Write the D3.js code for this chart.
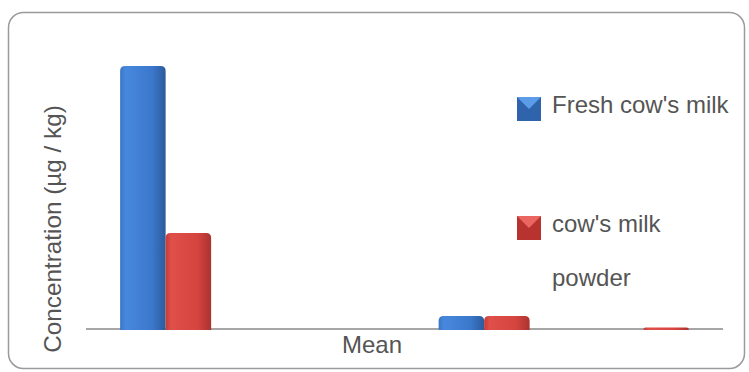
<!DOCTYPE html>
<html>
<head>
<meta charset="utf-8">
<script src="https://cdn.jsdelivr.net/npm/d3@7"></script>
<style>
  body { margin: 0; background: #fff; }
  text { font-family: "Liberation Sans", Arial, sans-serif; fill: #555; }
</style>
</head>
<body>
<div id="chart"></div>
<script>
// groups along the x axis (only the axis title "Mean" is shown)
var groups = ["g1", "g2", "g3", "g4"];
var seriesNames = ["Fresh cow's milk", "cow's milk powder"];
var freshValues = [2.74, 0, 0.135, 0];
var powderValues = [1.0, 0, 0.135, 0.015];
var axisTitle = "Mean";
var yTitle = "Concentration (µg / kg)";

var width = 749, height = 372;

var svg = d3.select("#chart").append("svg")
    .attr("width", width)
    .attr("height", height);

var defs = svg.append("defs");

function gradient(id, stops) {
  var g = defs.append("linearGradient").attr("id", id)
      .attr("x1", "0%").attr("x2", "100%").attr("y1", "0%").attr("y2", "0%");
  stops.forEach(function(s) {
    g.append("stop").attr("offset", s[0]).attr("stop-color", s[1]);
  });
}
gradient("blueBar", [["0%", "#3a75c4"], ["12%", "#4788de"], ["70%", "#3b78cc"], ["100%", "#2c5b9c"]]);
gradient("redBar", [["0%", "#c43b36"], ["12%", "#e0504a"], ["70%", "#d5443f"], ["100%", "#a93330"]]);

var fills = ["url(#blueBar)", "url(#redBar)"];
var legendFills = [["#5b9be8", "#2f64ad"], ["#ea6661", "#b8332f"]];

// outer rounded frame
svg.append("rect")
    .attr("x", 8.5).attr("y", 12.5)
    .attr("width", 736).attr("height", 356)
    .attr("rx", 15)
    .attr("fill", "#fff")
    .attr("stroke", "#9a9a9a")
    .attr("stroke-width", 1.5);

var x0 = d3.scaleBand()
    .domain(groups)
    .range([86, 723])
    .padding(0);

var x1 = d3.scaleBand()
    .domain(seriesNames)
    .range([0, x0.bandwidth()])
    .paddingInner(0)
    .paddingOuter(0.75);

var y = d3.scaleLinear()
    .domain([0, 3])
    .range([329, 41]);

var rows = groups.map(function(g, i) {
  return { group: g, values: [freshValues[i], powderValues[i]] };
});

// category axis line (drawn first so the bars sit on top)
svg.append("line")
    .attr("x1", x0.range()[0]).attr("x2", x0.range()[1])
    .attr("y1", y(0)).attr("y2", y(0))
    .attr("stroke", "#a6a6a6")
    .attr("stroke-width", 2);

// bar with rounded top corners
function barPath(x, w, top, bottom) {
  var h = bottom - top;
  var r = Math.min(5, h, w / 2);
  return "M" + x + "," + bottom
    + "L" + x + "," + (top + r)
    + "Q" + x + "," + top + " " + (x + r) + "," + top
    + "L" + (x + w - r) + "," + top
    + "Q" + (x + w) + "," + top + " " + (x + w) + "," + (top + r)
    + "L" + (x + w) + "," + bottom + "Z";
}

var group = svg.selectAll(".grp")
    .data(rows)
    .enter().append("g")
    .attr("class", "grp")
    .attr("transform", function(d) { return "translate(" + x0(d.group) + ",0)"; });

group.selectAll("path")
    .data(function(d) {
      return d.values.map(function(v, i) { return { name: seriesNames[i], value: v, i: i }; })
        .filter(function(b) { return b.value > 0; });
    })
    .enter().append("path")
    .attr("d", function(b) {
      return barPath(x1(b.name), x1.bandwidth(), y(b.value), y(0) + 1);
    })
    .attr("fill", function(b) { return fills[b.i]; });

svg.append("text")
    .attr("x", 372).attr("y", 353)
    .attr("text-anchor", "middle")
    .style("font-size", "24px")
    .text(axisTitle);

svg.append("text")
    .attr("transform", "translate(61,229) rotate(-90)")
    .attr("text-anchor", "middle")
    .style("font-size", "24.3px")
    .text(yTitle);

// legend
var legendItems = [
  { lines: ["Fresh cow's milk"], y: 97 },
  { lines: ["cow's milk", "powder"], y: 216 }
];

var legend = svg.selectAll(".legend")
    .data(legendItems)
    .enter().append("g")
    .attr("class", "legend")
    .attr("transform", function(d) { return "translate(517," + d.y + ")"; });

legend.append("rect")
    .attr("width", 24).attr("height", 24)
    .attr("fill", function(d, i) { return legendFills[i][1]; });

legend.append("path")
    .attr("d", "M0,0L24,0L12,12Z")
    .attr("fill", function(d, i) { return legendFills[i][0]; });

legend.append("path")
    .attr("d", "M2,22L12,12L22,22Z")
    .attr("fill", function(d, i) { return legendFills[i][1]; })
    .attr("opacity", 0.7);

legend.selectAll("text")
    .data(function(d) { return d.lines; })
    .enter().append("text")
    .attr("x", 35)
    .attr("y", function(t, j) { return 16 + j * 54; })
    .style("font-size", "24px")
    .text(function(t) { return t; });
</script>
</body>
</html>
